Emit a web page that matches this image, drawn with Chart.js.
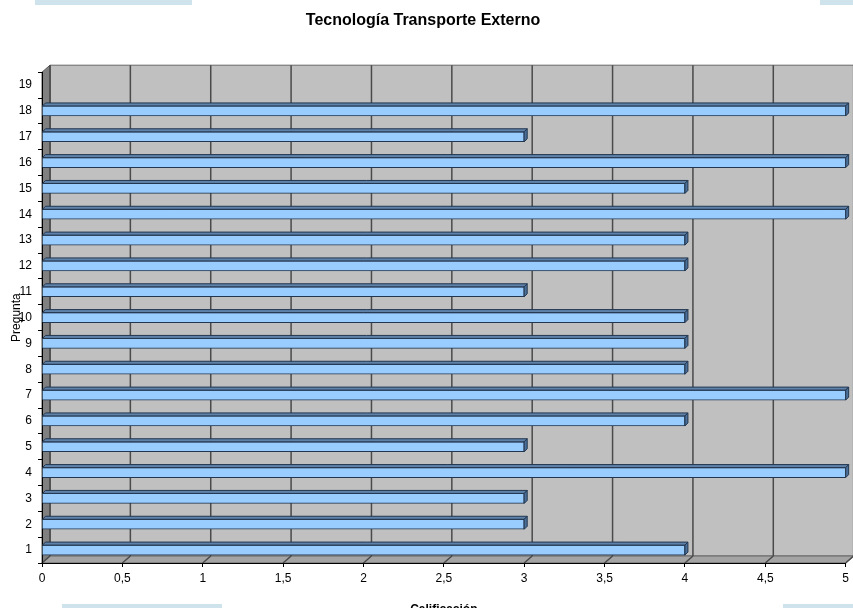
<!DOCTYPE html>
<html><head><meta charset="utf-8">
<script src="https://cdn.jsdelivr.net/npm/chart.js@4.4.0/dist/chart.umd.min.js"></script>
<style>
html,body{margin:0;padding:0;width:853px;height:608px;overflow:hidden;background:#fff;}
#wrap{position:absolute;left:0;top:0;width:853px;height:620px;}
.deco{position:absolute;background:#cfe3ec;}
</style></head><body>
<div id="wrap"><canvas id="c" width="853" height="620"></canvas></div>
<div class="deco" style="left:35px;top:0;width:157px;height:5px"></div>
<div class="deco" style="left:820px;top:0;width:33px;height:5px"></div>
<div class="deco" style="left:62px;top:604px;width:160px;height:4px"></div>
<div class="deco" style="left:783px;top:604px;width:70px;height:4px"></div>
<script>
const categories = ['1','2','3','4','5','6','7','8','9','10','11','12','13','14','15','16','17','18','19'];
const values = [4,3,3,5,3,4,5,4,4,4,3,4,4,5,4,5,3,5,null];
const xTickValues = [0,0.5,1,1.5,2,2.5,3,3.5,4,4.5,5];
const chartTitle = 'Tecnología Transporte Externo';
const xTitle = 'Calificación';
const yTitle = 'Pregunta';

const DX = 8, DY = 7, BD = 3;
function poly(ctx, pts, fill, stroke){
  ctx.beginPath();
  ctx.moveTo(pts[0][0], pts[0][1]);
  for (let i=1;i<pts.length;i++) ctx.lineTo(pts[i][0], pts[i][1]);
  ctx.closePath();
  if (fill){ ctx.fillStyle = fill; ctx.fill(); }
  if (stroke){ ctx.strokeStyle = stroke; ctx.stroke(); }
}
const plot3d = {
  id: 'plot3d',
  beforeDraw(chart){
    const {ctx, chartArea:a, scales:{x}} = chart;
    ctx.save();
    ctx.lineWidth = 1;
    poly(ctx, [[a.left+DX,a.top-DY],[a.right+DX,a.top-DY],[a.right+DX,a.bottom-DY],[a.left+DX,a.bottom-DY]], '#c0c0c0', '#666');
    poly(ctx, [[a.left,a.top],[a.left+DX,a.top-DY],[a.left+DX,a.bottom-DY],[a.left,a.bottom]], '#808080', '#555');
    poly(ctx, [[a.left,a.bottom],[a.right,a.bottom],[a.right+DX,a.bottom-DY],[a.left+DX,a.bottom-DY]], '#a4a4a4', '#666');
    ctx.strokeStyle = '#4a4a4a';
    ctx.lineWidth = 1.5;
    x.ticks.forEach(t => {
      const px = x.getPixelForValue(t.value);
      ctx.beginPath();
      ctx.moveTo(px+DX, a.top-DY); ctx.lineTo(px+DX, a.bottom-DY);
      ctx.moveTo(px, a.bottom); ctx.lineTo(px+DX, a.bottom-DY);
      ctx.stroke();
    });
    ctx.restore();
  },
  afterDatasetsDraw(chart){
    const ctx = chart.ctx;
    const meta = chart.getDatasetMeta(0);
    ctx.save();
    ctx.lineWidth = 1;
    meta.data.forEach(el => {
      const p = el.getProps(['x','y','base','height'], true);
      if (p.x == null || isNaN(p.x) || Math.abs(p.x - p.base) < 1) return;
      const top = p.y - p.height/2;
      poly(ctx, [[p.base,top],[p.x,top],[p.x+BD,top-BD],[p.base+BD,top-BD]], '#5f82aa', '#22364f');
      poly(ctx, [[p.x,top],[p.x+BD,top-BD],[p.x+BD,top-BD+p.height],[p.x,top+p.height]], '#4a6f99', '#22364f');
    });
    ctx.restore();
  }
};

Chart.defaults.font.family = "'Liberation Sans', Arial, sans-serif";
Chart.defaults.color = '#000';

new Chart(document.getElementById('c'), {
  type: 'bar',
  data: {
    labels: categories,
    datasets: [{
      data: values,
      backgroundColor: '#99ccff',
      borderColor: '#22364f',
      borderWidth: 1,
      barThickness: 10
    }]
  },
  options: {
    indexAxis: 'y',
    responsive: false,
    animation: false,
    devicePixelRatio: 1,
    layout: { padding: { left: 0, right: 7, top: 0, bottom: 0 } },
    plugins: {
      legend: { display: false },
      tooltip: { enabled: false },
      title: {
        display: true,
        text: chartTitle,
        font: { size: 16, weight: 'bold' },
        color: '#000',
        padding: { top: 11, bottom: 42 }
      }
    },
    scales: {
      x: {
        type: 'linear',
        min: 0, max: 5,
        afterBuildTicks: s => { s.ticks = xTickValues.map(v => ({value: v})); },
        afterFit: s => { s.height = 57; },
        ticks: {
          font: { size: 12 },
          padding: 4,
          callback: v => String(v).replace('.', ',')
        },
        grid: { display: true, drawOnChartArea: false, drawTicks: true, tickLength: 4, color: '#000' },
        border: { display: true, color: '#000' },
        title: { display: true, text: xTitle, font: { size: 12, weight: 'bold' }, padding: { top: 4, bottom: 3 } }
      },
      y: {
        type: 'category',
        reverse: true,
        afterFit: s => { s.width = 42; },
        ticks: { font: { size: 12 }, padding: 6 },
        grid: { display: true, drawOnChartArea: false, drawTicks: true, tickLength: 4, color: '#000', offset: true },
        border: { display: true, color: '#000' },
        title: { display: true, text: yTitle, font: { size: 12 }, padding: { top: 9, bottom: 0 } }
      }
    }
  },
  plugins: [plot3d]
});
</script>
</body></html>
